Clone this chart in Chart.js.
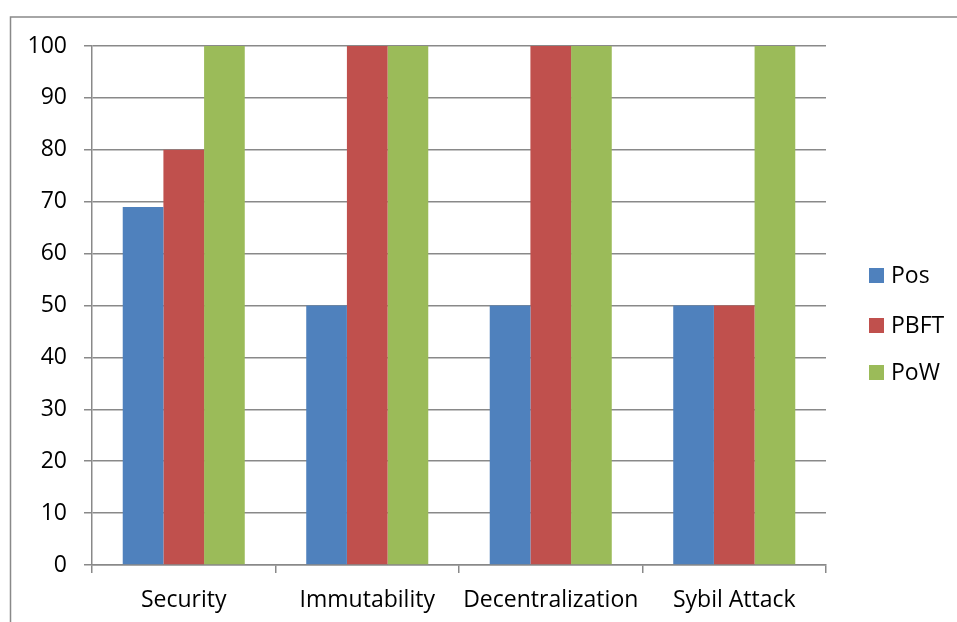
<!DOCTYPE html>
<html>
<head>
<meta charset="utf-8">
<script src="https://cdn.jsdelivr.net/npm/chart.js@4/dist/chart.umd.min.js"></script>
<style>
  html, body { margin: 0; padding: 0; background: #fff; }
  #wrap { width: 957px; height: 622px; }
</style>
</head>
<body>
<div id="wrap"><canvas id="c" width="957" height="622"></canvas></div>
<script>
const categories = ['Security', 'Immutability', 'Decentralization', 'Sybil Attack'];
const posValues = [69, 50, 50, 50];
const pbftValues = [80, 100, 100, 50];
const powValues = [100, 100, 100, 100];
const yTicks = [0, 10, 20, 30, 40, 50, 60, 70, 80, 90, 100];

const FONT = '"Open Sans", "Noto Sans", sans-serif';
const FONT_SIZE = 23;
const GRID = '#898989';

// Outer frame of the chart object
const framePlugin = {
  id: 'frame',
  beforeDraw(chart) {
    const ctx = chart.ctx;
    ctx.save();
    ctx.fillStyle = '#fff';
    ctx.fillRect(0, 0, chart.width, chart.height);
    ctx.strokeStyle = GRID;
    ctx.lineWidth = 1.5;
    ctx.strokeRect(10.5, 17, chart.width + 20, chart.height + 20);
    ctx.restore();
  }
};

// Legend on the right, square swatches beside each series name
const legendPlugin = {
  id: 'sideLegend',
  afterDraw(chart) {
    const ctx = chart.ctx;
    const x = 869, ys = [268, 318, 365];
    ctx.save();
    ctx.font = FONT_SIZE + 'px ' + FONT;
    ctx.textBaseline = 'middle';
    chart.data.datasets.forEach((ds, i) => {
      ctx.fillStyle = ds.backgroundColor;
      ctx.fillRect(x, ys[i], 15, 15);
      ctx.fillStyle = '#000';
      ctx.fillText(ds.label, x + 22, ys[i] + 8);
    });
    ctx.restore();
  }
};

new Chart(document.getElementById('c'), {
  type: 'bar',
  data: {
    labels: categories,
    datasets: [
      { label: 'Pos', data: posValues, backgroundColor: '#4F81BD' },
      { label: 'PBFT', data: pbftValues, backgroundColor: '#C0504D' },
      { label: 'PoW', data: powValues, backgroundColor: '#9BBB59' }
    ]
  },
  options: {
    responsive: false,
    animation: false,
    devicePixelRatio: 1,
    layout: { padding: { left: 0, right: 131, top: 46, bottom: 0 } },
    datasets: { bar: { categoryPercentage: 0.665, barPercentage: 1.0 } },
    plugins: { legend: { display: false }, tooltip: { enabled: false } },
    scales: {
      x: {
        grid: { display: true, drawOnChartArea: false, drawTicks: true, tickLength: 8, color: GRID, lineWidth: 1.5, offset: true },
        border: { display: true, color: GRID, width: 1.5 },
        ticks: { color: '#000', font: { family: FONT, size: FONT_SIZE }, padding: 14 },
        afterFit(s) { s.height = 57; }
      },
      y: {
        min: 0, max: 100,
        afterBuildTicks(s) { s.ticks = yTicks.map(v => ({ value: v })); },
        grid: { color: GRID, lineWidth: 1.5, tickLength: 8 },
        border: { display: true, color: GRID, width: 1.5 },
        ticks: { color: '#000', font: { family: FONT, size: FONT_SIZE }, padding: 17 },
        afterFit(s) { s.width = 92; }
      }
    }
  },
  plugins: [framePlugin, legendPlugin]
});
</script>
</body>
</html>
